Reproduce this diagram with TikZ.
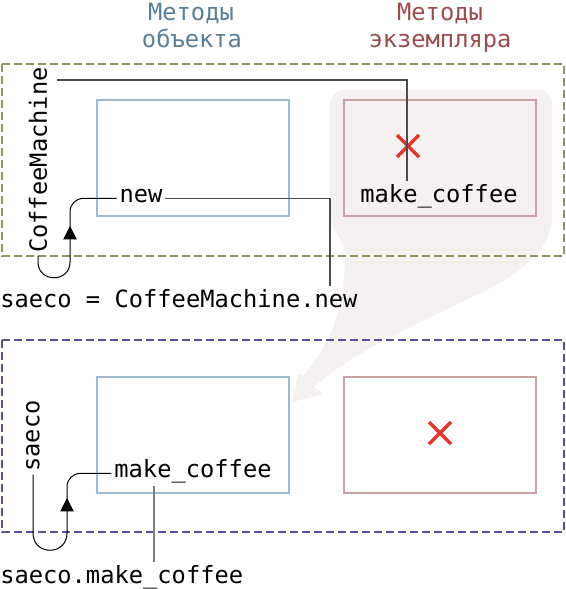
\documentclass[tikz,border=0pt]{standalone}
\usepackage{fontspec}
\setmainfont{DejaVu Sans Mono}
\usetikzlibrary{arrows.meta}

\definecolor{klassegruen}{HTML}{8A9A5B}
\definecolor{objektlila}{HTML}{5B4F98}
\definecolor{objblau}{HTML}{9DBBD3}
\definecolor{objblautext}{HTML}{5A7E99}
\definecolor{instrot}{HTML}{C9A2A2}
\definecolor{instrottext}{HTML}{9C4B4B}
\definecolor{kreuzrot}{HTML}{E5352B}
\definecolor{blasegrau}{HTML}{F5F1F0}

\begin{document}
\begin{tikzpicture}[x=0.75pt, y=-0.75pt, font=\fontsize{17.8}{21}\selectfont, inner sep=2pt,
	rahmen/.style={dashed, dash pattern=on 6pt off 3pt, line width=1.8pt},
	kasten/.style={line width=1.8pt},
	kreuz/.style={kreuzrot, line width=2.4pt},
	verweis/.style={black!70, line width=0.8pt},
	aufruf/.style={black, line width=0.75pt}]

		\useasboundingbox (0,0) rectangle (566,589);

		%Sprechblase im Hintergrund
		\fill [blasegrau] (343,90) -- (538,90) .. controls (547,90) and (552,96) .. (552,104)
			-- (552,215) .. controls (552,245) and (530,265) .. (500,283)
			.. controls (450,310) and (360,345) .. (314,387) -- (323,394) -- (292,402) -- (298,373) -- (303,376)
			.. controls (335,340) and (345,300) .. (345,256) .. controls (345,238) and (330,230) .. (330,214)
			-- (330,104) .. controls (330,96) and (335,90) .. (343,90) -- cycle;

		%Ueberschriften
		\node [objblautext, anchor=base] (objkopf) at (191,20) {Методы};
		\node [objblautext, anchor=base] (objkopfb) at (192,47) {объекта};
		\node [instrottext, anchor=base] (instkopf) at (440,20) {Методы};
		\node [instrottext, anchor=base] (instkopfb) at (440,47) {экземпляра};

		%Klasse
		\draw [rahmen, klassegruen] (2,64) rectangle (564,256);
		\draw [kasten, objblau] (97,100) rectangle (289,216);
		\draw [kasten, instrot] (344,100) rectangle (536,216);
		\draw [kreuz] (397,135) -- (419,157) (397,157) -- (419,135);

		%Objekt
		\draw [rahmen, objektlila] (2,340) rectangle (564,532);
		\draw [kasten, objblau] (97,377) rectangle (289,493);
		\draw [kasten, instrot] (344,377) rectangle (536,493);
		\draw [kreuz] (429,422) -- (451,444) (429,444) -- (451,422);

		%Texte
		\node [rotate=90] (cm) at (38,160) {CoffeeMachine};
		\node [anchor=base] (new) at (141,202) {new};
		\node [anchor=base] (mcoben) at (439,202) {make\_coffee};
		\node [anchor=base west, inner xsep=0pt] (newaufruf) at (0,307) {saeco = CoffeeMachine.new};
		\node [rotate=90] (saeco) at (33,436) {saeco};
		\node [anchor=base] (mcunten) at (193,477) {make\_coffee};
		\node [anchor=base west, inner xsep=0pt] (mcaufruf) at (0,583) {saeco.make\_coffee};

		\coordinate (cmstart) at (57,80);
		\coordinate (mcobx) at (407,0);
		\coordinate (newx) at (330,0);
		\coordinate (mcx) at (154,0);

		%Verweise
		\draw [verweis] (cmstart) -| (mcoben.north -| mcobx);
		\draw [verweis] (new.mid east) -| (newaufruf.north -| newx);
		\draw [verweis, black!50, line width=1.1pt] (mcunten.south -| mcx) -- (mcaufruf.north -| mcx);

		%Aufrufpfeile
		\draw [aufruf, -{Triangle[length=10pt, width=10pt]}] (cm.west) -- (38,262)
			.. controls (38,283) and (70,283) .. (70,262) -- (70,226);
		\draw [aufruf, rounded corners=10pt] (70,230) |- (new.mid west);
		\draw [aufruf, -{Triangle[length=10pt, width=10pt]}] (saeco.west) -- (33,533)
			.. controls (33,556) and (67,556) .. (67,533) -- (67,498);
		\draw [aufruf, rounded corners=10pt] (67,502) |- (mcunten.mid west);

\end{tikzpicture}
\end{document}
